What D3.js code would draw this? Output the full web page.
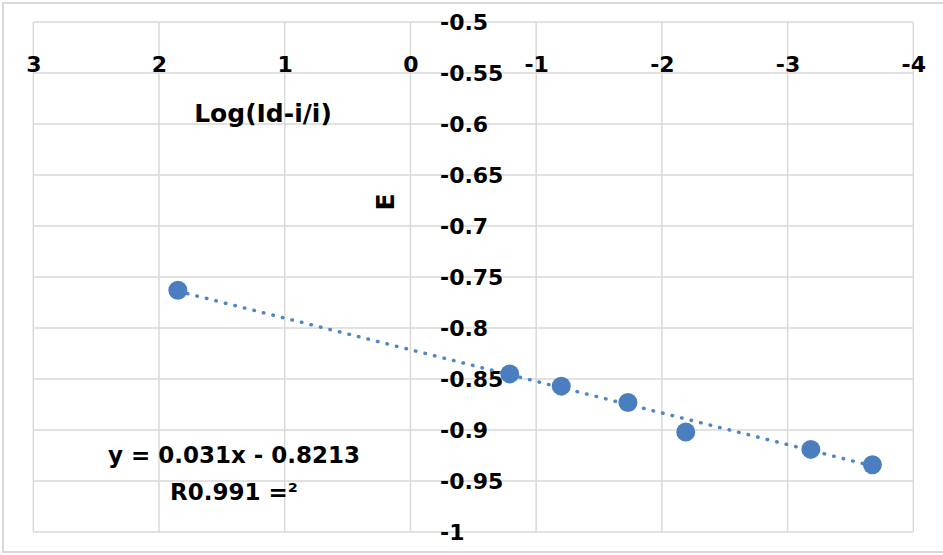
<!DOCTYPE html>
<html lang="en">
<head>
<meta charset="utf-8">
<title>E vs Log(Id-i/i)</title>
<script src="https://d3js.org/d3.v7.min.js"></script>
<style>
 body { margin: 0; background: #fff; }
 text { font-family: "DejaVu Sans", sans-serif; font-weight: bold; fill: #000; }
</style>
</head>
<body>
<script>
// data
const logRatio = [1.85, -0.79, -1.20, -1.73, -2.19, -3.185, -3.675];
const potential = [-0.763, -0.845, -0.857, -0.873, -0.902, -0.919, -0.934];
const xTicks = [3, 2, 1, 0, -1, -2, -3, -4];
const yTicks = [-0.5, -0.55, -0.6, -0.65, -0.7, -0.75, -0.8, -0.85, -0.9, -0.95, -1];
const slope = 0.031, intercept = -0.8213;
const eqLines = ['y = 0.031x - 0.8213', 'R0.991 =\u00b2'];

const W = 943, H = 555;
const svg = d3.select('body').append('svg')
  .attr('width', W).attr('height', H);

// chart frame
svg.append('rect')
  .attr('x', 3).attr('y', 3).attr('width', W + 4).attr('height', 549)
  .attr('fill', 'none').attr('stroke', '#d9d9d9').attr('stroke-width', 2);

//Scales (x axis reversed)
const x = d3.scaleLinear().domain([3, -4]).range([33.3, 913.3]);
const y = d3.scaleLinear().domain([-0.5, -1]).range([22, 532]);

const fmt = d => String(+d.toFixed(2));

//Grid
svg.append('g').selectAll('line').data(xTicks).join('line')
  .attr('x1', d => x(d)).attr('x2', d => x(d))
  .attr('y1', y(-0.5)).attr('y2', y(-1))
  .attr('stroke', '#d9d9d9').attr('stroke-width', 1.5);
svg.append('g').selectAll('line').data(yTicks).join('line')
  .attr('x1', x(3)).attr('x2', x(-4))
  .attr('y1', d => y(d)).attr('y2', d => y(d))
  .attr('stroke', '#d9d9d9').attr('stroke-width', 1.5);

//Axes, labels only
const xAxis = svg.append('g')
  .attr('transform', 'translate(0,72)')
  .call(d3.axisTop(x).tickValues(xTicks).tickFormat(fmt).tickSize(0).tickPadding(0));
const yAxis = svg.append('g')
  .attr('transform', 'translate(440,0)')
  .call(d3.axisRight(y).tickValues(yTicks).tickFormat(fmt).tickSize(0).tickPadding(0));
[xAxis, yAxis].forEach(a => {
  a.select('.domain').remove();
  a.selectAll('text')
    .attr('font-family', '"DejaVu Sans", sans-serif')
    .attr('font-weight', 'bold')
    .attr('font-size', 22)
    .attr('fill', '#000');
});

//Axis titles
svg.append('text')
  .attr('x', 263).attr('y', 122)
  .attr('text-anchor', 'middle')
  .style('font-size', '25px')
  .text('Log(Id-i/i)');
svg.append('text')
  .attr('transform', 'translate(394,202) rotate(-90)')
  .attr('text-anchor', 'middle')
  .style('font-size', '25px')
  .text('E');

//Trendline
const ext = d3.extent(logRatio);
svg.append('line')
  .attr('x1', x(ext[1])).attr('y1', y(slope * ext[1] + intercept))
  .attr('x2', x(ext[0])).attr('y2', y(slope * ext[0] + intercept))
  .attr('stroke', '#4f86c6').attr('stroke-width', 3.5)
  .attr('stroke-linecap', 'round')
  .attr('stroke-dasharray', '0.5 9.3');

//Points
svg.append('g').selectAll('circle').data(logRatio).join('circle')
  .attr('cx', d => x(d))
  .attr('cy', (d, i) => y(potential[i]))
  .attr('r', 9.5)
  .attr('fill', '#4a7ebf');

//Equation
svg.append('g').selectAll('text').data(eqLines).join('text')
  .attr('x', 234)
  .attr('y', (d, i) => 463 + i * 37)
  .attr('text-anchor', 'middle')
  .style('font-size', '23px')
  .text(d => d);
</script>
</body>
</html>
